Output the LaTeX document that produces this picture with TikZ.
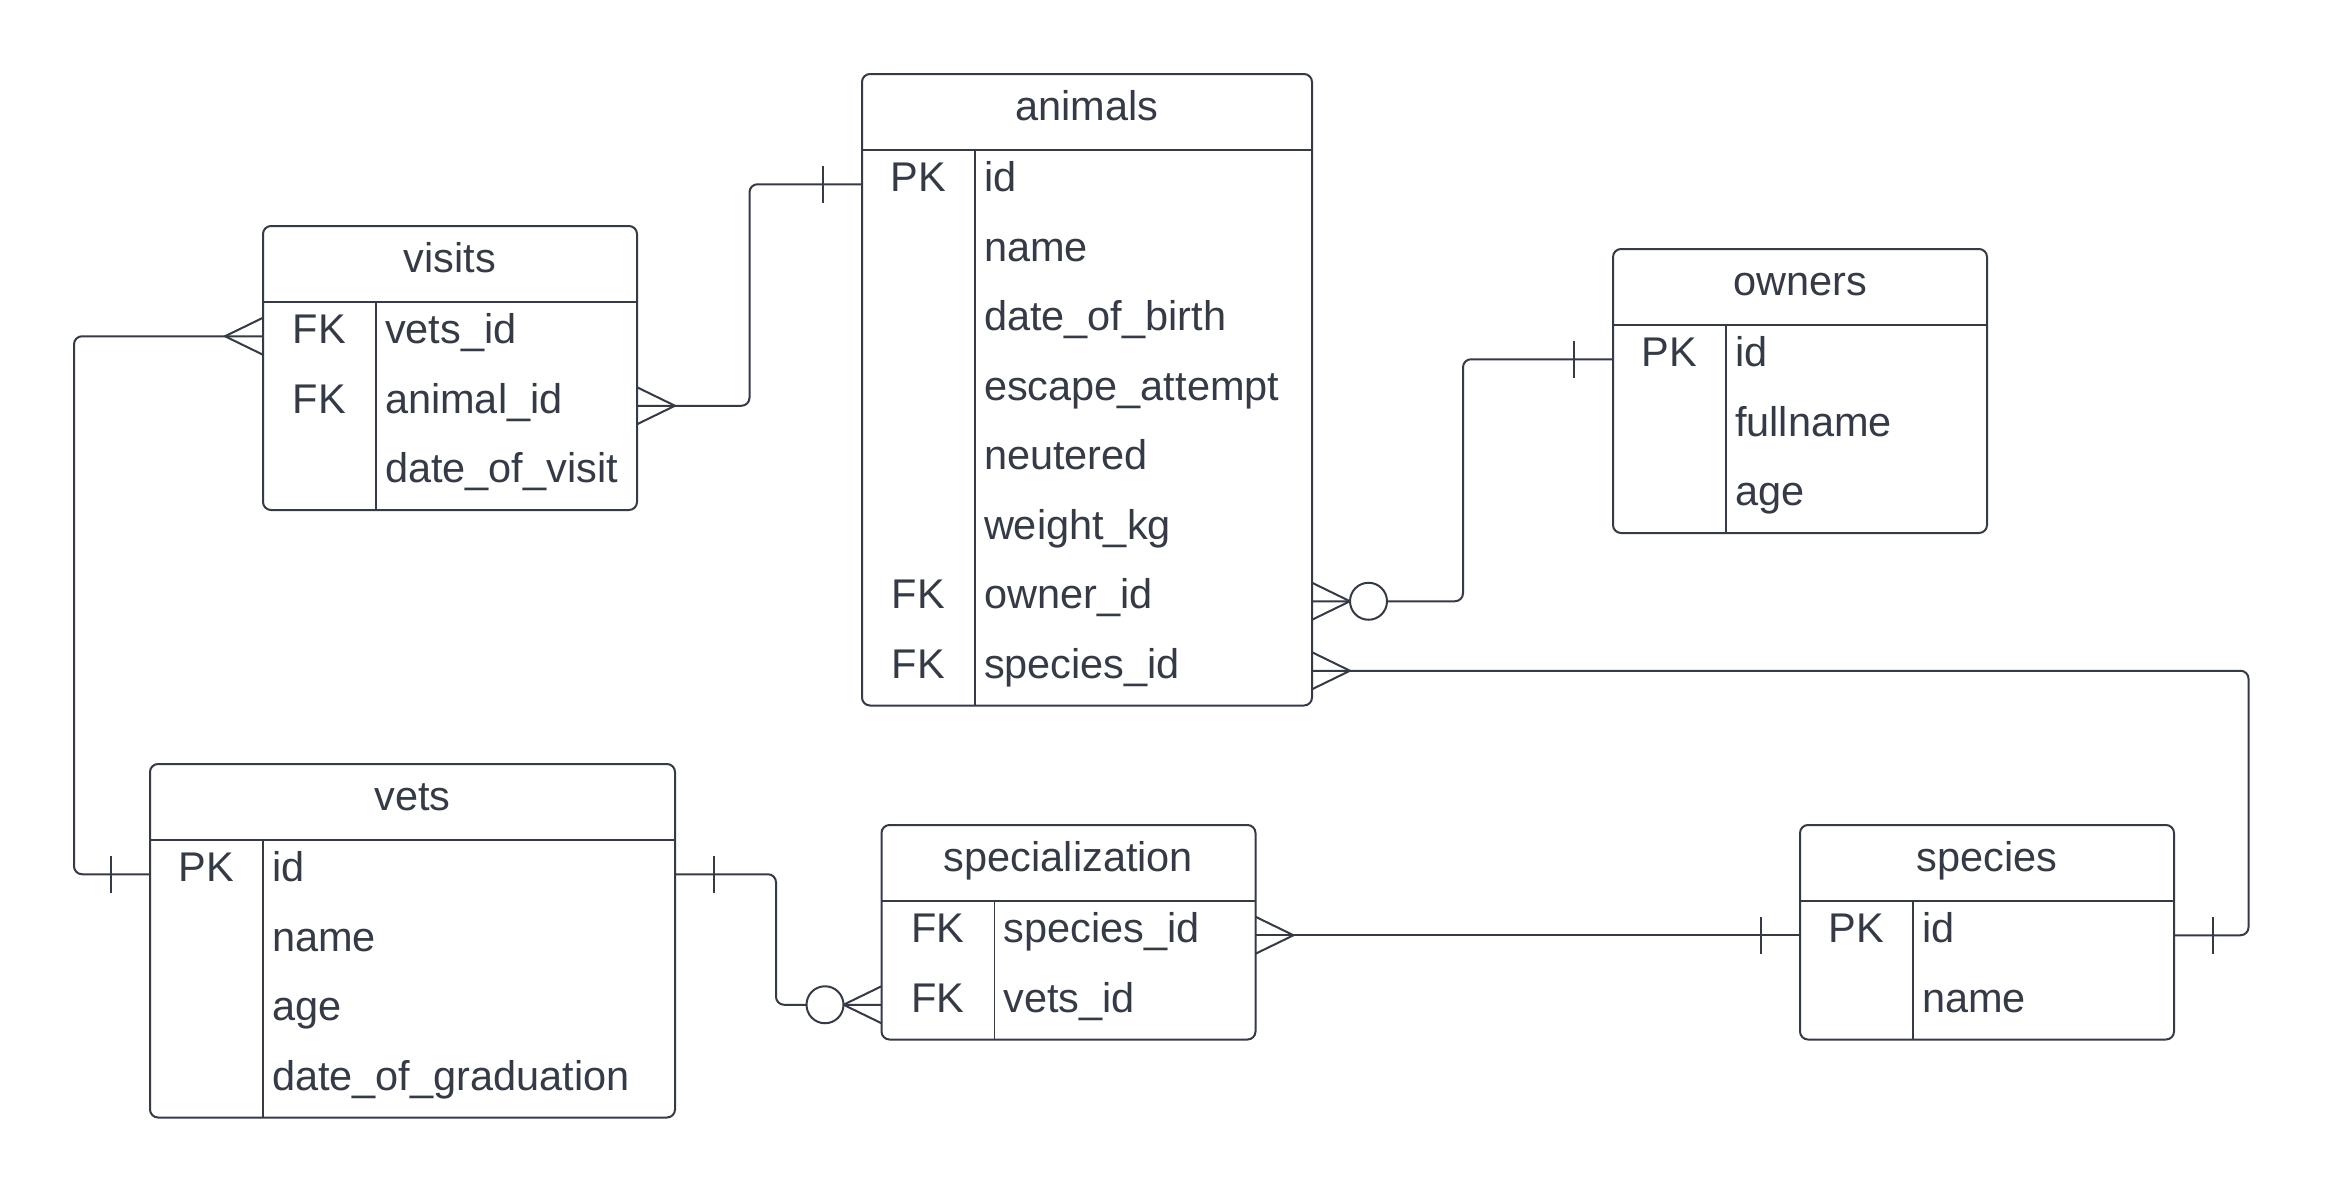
\documentclass[tikz,border=0pt]{standalone}
\usepackage{fontspec}
\setmainfont{Liberation Sans}
\usetikzlibrary{calc}
\definecolor{ink}{HTML}{343B47}
\tikzset{
  tbl/.style={draw=ink, line width=2pt, rounded corners=8pt, fill=white, inner sep=0pt, outer sep=0pt},
  hdrline/.style={draw=ink, line width=2pt},
  divline/.style={draw=ink, line width=1.5pt},
  txt/.style={text=ink, font=\fontsize{41.5}{48}\selectfont, inner sep=0pt, outer sep=0pt},
  conn/.style={draw=ink, line width=2pt, rounded corners=8pt},
  crow/.style={draw=ink, line width=2pt},
}
% #1 name #2 x #3 y #4 width #5 nrows #6 keywidth #7 title #8 rows
\newcommand\ertable[8]{%
  \node[tbl, anchor=north west, minimum width=#4pt, minimum height={75.5pt+#5*69.5pt}] (#1) at (#2,#3) {};
  \draw[hdrline] ($(#1.north west)+(0,75.5)$) -- ($(#1.north east)+(0,75.5)$);
  \draw[divline] ($(#1.north west)+(#6,75.5)$) -- ($(#1.south west)+(#6,0)$);
  \node[txt, anchor=base] (#1-title) at ($(#1.north)+(0,46)$) {#7};
  \foreach \k/\f [count=\i] in {#8} {
    \coordinate (#1-\i-w) at ($(#1.north west)+(0,{75.5+(\i-0.5)*69.5})$);
    \coordinate (#1-\i-e) at ($(#1.north east)+(0,{75.5+(\i-0.5)*69.5})$);
    \node[txt, anchor=base] (#1-k\i) at ($(#1-\i-w)+({#6/2},7.5)$) {\k};
    \node[txt, anchor=base west] (#1-f\i) at ($(#1-\i-w)+({#6+9},7.5)$) {\f};
  }
}
\newcommand\crowmany[2]{\draw[crow] ($(#1)+(0,-18.5)$) -- ($(#1)+({#2*38},0)$) -- ($(#1)+(0,18.5)$);}
\newcommand\crowone[2]{\draw[crow] ($(#1)+({#2*39},-18.5)$) -- ($(#1)+({#2*39},18.5)$);}
\newcommand\crowzero[2]{\draw[crow, fill=white] ($(#1)+({#2*56.5},0)$) circle[radius=18.5pt];}

\begin{document}
\begin{tikzpicture}[x=1pt, y=-1pt]
\useasboundingbox[fill=white] (0,0) rectangle (2327,1191);

\ertable{animals}{862}{74}{450}{8}{113}{animals}{PK/id, {}/name, {}/date\_of\_birth, {}/escape\_attempt, {}/neutered, {}/weight\_kg, FK/owner\_id, FK/species\_id}
\ertable{visits}{263}{226}{374}{3}{113}{visits}{FK/vets\_id, FK/animal\_id, {}/date\_of\_visit}
\ertable{owners}{1613}{249}{374}{3}{113}{owners}{PK/id, {}/fullname, {}/age}
\ertable{vets}{150}{764}{525}{4}{113}{vets}{PK/id, {}/name, {}/age, {}/date\_of\_graduation}
\ertable{specialization}{881.5}{825}{374}{2}{113}{specialization}{FK/species\_id, FK/vets\_id}
\ertable{species}{1800}{825}{374}{2}{113}{species}{PK/id, {}/name}

% connectors
\draw[conn] (visits-2-e) -| ($(animals-1-w)+(-112.5,0)$) -- (animals-1-w);
\draw[conn] (animals-7-e) -| ($(owners-1-w)+(-150,0)$) -- (owners-1-w);
\draw[conn] (animals-8-e) -| ($(species-1-e)+(74.5,0)$) -- (species-1-e);
\draw[conn] (specialization-1-e) -- (species-1-w);
\draw[conn] (vets-1-e) -| ($(specialization-2-w)+(-105.5,0)$) -- (specialization-2-w);
\draw[conn] (visits-1-w) -| ($(vets-1-w)+(-76,0)$) -- (vets-1-w);

% end markers
\crowmany{visits-2-e}{1}   \crowone{animals-1-w}{-1}
\crowmany{animals-7-e}{1}  \crowzero{animals-7-e}{1}  \crowone{owners-1-w}{-1}
\crowmany{animals-8-e}{1}  \crowone{species-1-e}{1}
\crowmany{specialization-1-e}{1}  \crowone{species-1-w}{-1}
\crowone{vets-1-e}{1}  \crowmany{specialization-2-w}{-1}  \crowzero{specialization-2-w}{-1}
\crowmany{visits-1-w}{-1}  \crowone{vets-1-w}{-1}
\end{tikzpicture}
\end{document}
